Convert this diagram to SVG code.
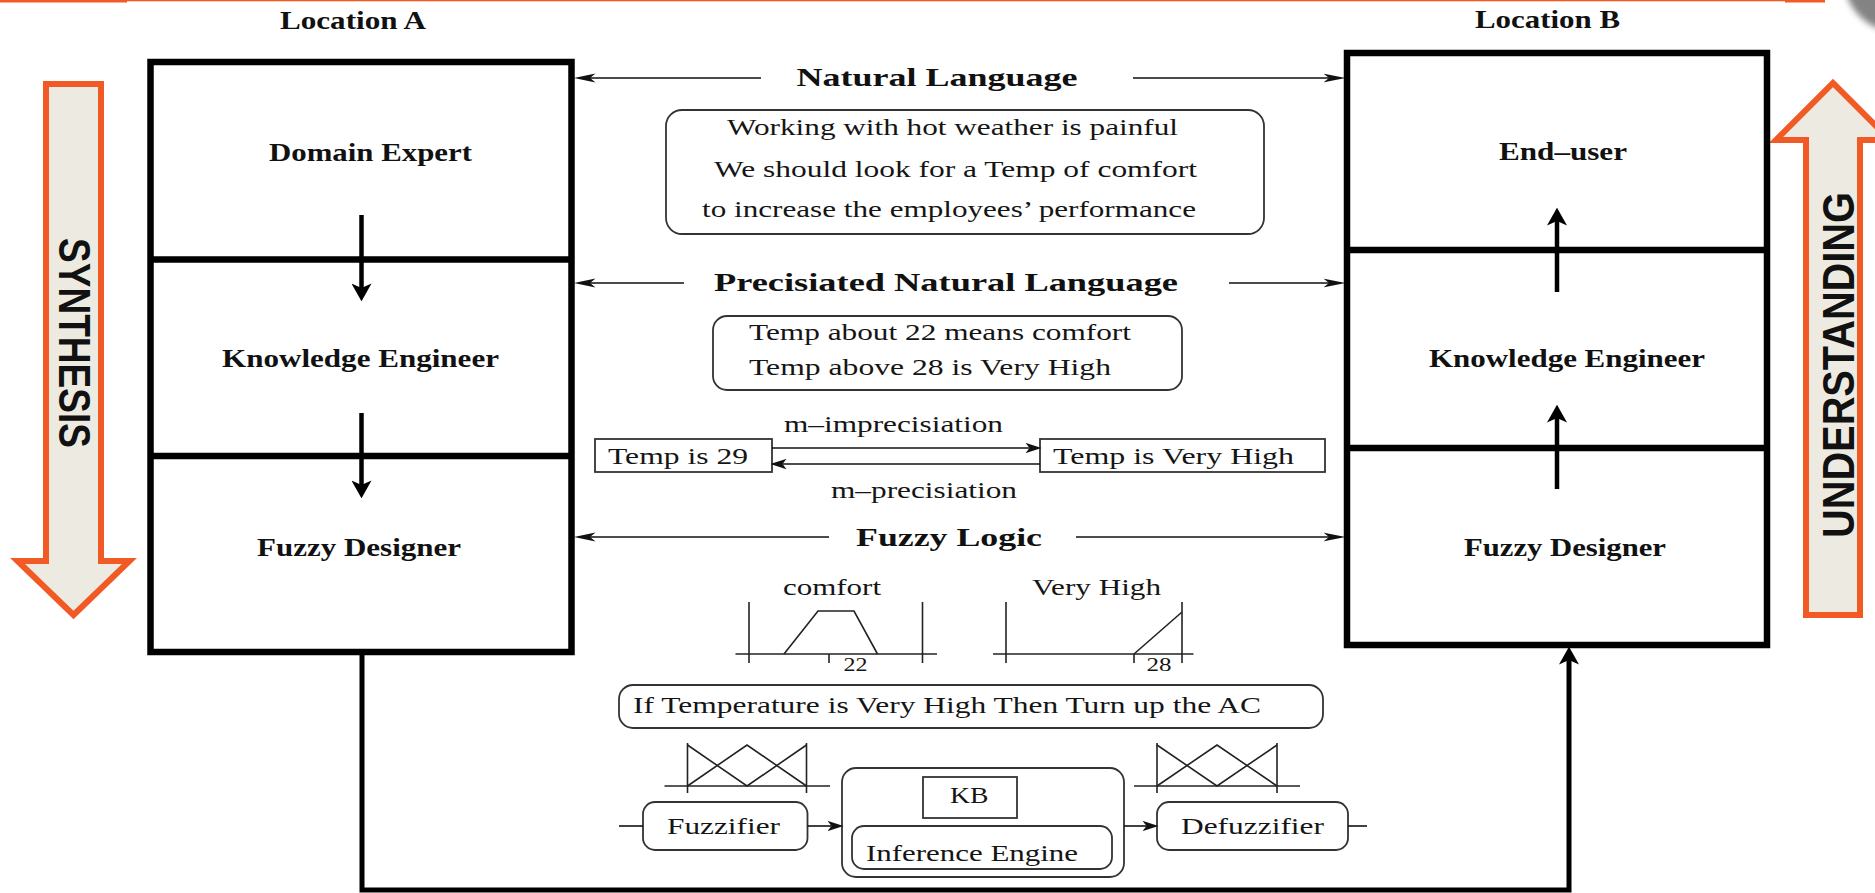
<svg xmlns="http://www.w3.org/2000/svg" width="1875" height="893" viewBox="0 0 1875 893">
  <style>
    .bx { fill: none; stroke: #000; stroke-width: 6.5; }
    .ar { stroke: #000; stroke-width: 4.5; fill: none; }
    .loop { stroke: #000; stroke-width: 5; fill: none; }
    .thin { stroke: #111; stroke-width: 1.6; fill: none; }
    .rb { fill: none; stroke: #333; stroke-width: 1.8; }
    .ax { stroke: #222; stroke-width: 1.6; fill: none; }
    .lbl { font-family: "Liberation Serif", "Times New Roman", serif; font-weight: bold; font-size: 26px; fill: #111; }
    .txt { font-family: "Liberation Serif", "Times New Roman", serif; font-size: 22.5px; fill: #151515; }
    .sm { font-family: "Liberation Serif", "Times New Roman", serif; font-size: 18px; fill: #151515; }
    .big { font-family: "Liberation Sans", Arial, sans-serif; font-weight: bold; font-size: 45px; fill: #111; }
    .band { fill: #EDEBE1; stroke: #F15A24; stroke-width: 6; stroke-linejoin: miter; }
  </style>
  <defs>
    <marker id="hd" markerUnits="userSpaceOnUse" markerWidth="18" markerHeight="20" viewBox="0 0 16 18" refX="4" refY="9" orient="auto">
      <path d="M0,0 L16,9 L0,18 L4,9 z" fill="#000"/>
    </marker>
    <marker id="tn" markerUnits="userSpaceOnUse" markerWidth="22" markerHeight="10" viewBox="0 0 20 8" refX="5" refY="4" orient="auto">
      <path d="M0,0 L20,4 L0,8 L5,4 z" fill="#111"/>
    </marker>
    <marker id="md" markerUnits="userSpaceOnUse" markerWidth="16" markerHeight="11" viewBox="0 0 14 9" refX="3.5" refY="4.5" orient="auto">
      <path d="M0,0 L14,4.5 L0,9 L3.5,4.5 z" fill="#111"/>
    </marker>
    <filter id="soft" x="-50%" y="-50%" width="200%" height="200%">
      <feGaussianBlur stdDeviation="3"/>
    </filter>
  </defs>

  <rect width="1875" height="893" fill="#fff"/>

  <!-- slide header rule -->
  <g id="header">
    <rect x="0" y="0" width="127" height="2.5" fill="#F15A24"/>
    <rect x="127" y="0" width="1658" height="1.3" fill="#F15A24"/>
    <rect x="1785" y="0" width="40" height="2.5" fill="#F15A24"/>
    <circle cx="1898" cy="-22" r="54" fill="#5a5a5a" opacity="0.75" filter="url(#soft)"/>
  </g>

  <!-- side direction bands -->
  <g id="synthesis">
    <path class="band" d="M46,84 H101 V561 H129.5 L73.5,615 L17.5,561 H46 Z"/>
    <text class="big" transform="translate(59,343) rotate(90)" text-anchor="middle" textLength="210" lengthAdjust="spacingAndGlyphs">SYNTHESIS</text>
  </g>
  <g id="understanding">
    <path class="band" d="M1806,615 V140 H1776 L1833,83 L1890,140 H1860 V615 Z"/>
    <text class="big" transform="translate(1854,365) rotate(-90)" text-anchor="middle" textLength="346" lengthAdjust="spacingAndGlyphs">UNDERSTANDING</text>
  </g>

  <!-- Location A stack -->
  <g id="location-a">
    <text class="lbl" x="353" y="29" text-anchor="middle" textLength="146" lengthAdjust="spacingAndGlyphs">Location A</text>
    <rect class="bx" x="150.5" y="62" width="421" height="590"/>
    <line class="bx" x1="150.5" y1="259.5" x2="571.5" y2="259.5"/>
    <line class="bx" x1="150.5" y1="456" x2="571.5" y2="456"/>
  </g>
  <g id="domain-expert">
    <text class="lbl" x="370.5" y="161" text-anchor="middle" textLength="203" lengthAdjust="spacingAndGlyphs">Domain Expert</text>
  </g>
  <g id="knowledge-engineer-a">
    <text class="lbl" x="360.5" y="367" text-anchor="middle" textLength="277" lengthAdjust="spacingAndGlyphs">Knowledge Engineer</text>
  </g>
  <g id="fuzzy-designer-a">
    <text class="lbl" x="359" y="556" text-anchor="middle" textLength="204" lengthAdjust="spacingAndGlyphs">Fuzzy Designer</text>
  </g>

  <!-- Location B stack -->
  <g id="location-b">
    <text class="lbl" x="1547.5" y="28" text-anchor="middle" textLength="145" lengthAdjust="spacingAndGlyphs">Location B</text>
    <rect class="bx" x="1347" y="53" width="420" height="592"/>
    <line class="bx" x1="1347" y1="250" x2="1767" y2="250"/>
    <line class="bx" x1="1347" y1="448" x2="1767" y2="448"/>
  </g>
  <g id="end-user">
    <text class="lbl" x="1563" y="160" text-anchor="middle" textLength="128" lengthAdjust="spacingAndGlyphs">End–user</text>
  </g>
  <g id="knowledge-engineer-b">
    <text class="lbl" x="1567" y="367" text-anchor="middle" textLength="276" lengthAdjust="spacingAndGlyphs">Knowledge Engineer</text>
  </g>
  <g id="fuzzy-designer-b">
    <text class="lbl" x="1565" y="556" text-anchor="middle" textLength="202" lengthAdjust="spacingAndGlyphs">Fuzzy Designer</text>
  </g>

  <!-- language levels -->
  <g id="natural-language">
    <text class="lbl" x="937" y="86" text-anchor="middle" textLength="281" lengthAdjust="spacingAndGlyphs">Natural Language</text>
    <rect class="rb" x="666" y="110" width="598" height="124" rx="16"/>
    <text class="txt" x="952.5" y="135" text-anchor="middle" textLength="451" lengthAdjust="spacingAndGlyphs">Working with hot weather is painful</text>
    <text class="txt" x="955.5" y="177" text-anchor="middle" textLength="483" lengthAdjust="spacingAndGlyphs">We should look for a Temp of comfort</text>
    <text class="txt" x="949" y="217" text-anchor="middle" textLength="494" lengthAdjust="spacingAndGlyphs">to increase the employees’ performance</text>
  </g>
  <g id="precisiated-language">
    <text class="lbl" x="946" y="291" text-anchor="middle" textLength="464" lengthAdjust="spacingAndGlyphs">Precisiated Natural Language</text>
    <rect class="rb" x="713" y="316" width="469" height="74" rx="14"/>
    <text class="txt" x="749" y="340" textLength="382" lengthAdjust="spacingAndGlyphs">Temp about 22 means comfort</text>
    <text class="txt" x="749" y="375" textLength="362" lengthAdjust="spacingAndGlyphs">Temp above 28 is Very High</text>
  </g>
  <g id="temp-29">
    <rect class="rb" x="595" y="439" width="177" height="33"/>
    <text class="txt" x="608" y="464" textLength="140" lengthAdjust="spacingAndGlyphs">Temp is 29</text>
  </g>
  <g id="temp-very-high">
    <rect class="rb" x="1040" y="439" width="285" height="33"/>
    <text class="txt" x="1053" y="464" textLength="241" lengthAdjust="spacingAndGlyphs">Temp is Very High</text>
  </g>
  <g id="precisiation-labels">
    <text class="txt" x="784" y="432" textLength="219" lengthAdjust="spacingAndGlyphs">m–imprecisiation</text>
    <text class="txt" x="831" y="498" textLength="186" lengthAdjust="spacingAndGlyphs">m–precisiation</text>
  </g>

  <!-- fuzzy logic level -->
  <g id="fuzzy-logic">
    <text class="lbl" x="949" y="546" text-anchor="middle" textLength="186" lengthAdjust="spacingAndGlyphs">Fuzzy Logic</text>
  </g>
  <g id="mf-comfort">
    <text class="txt" x="783" y="595" textLength="98" lengthAdjust="spacingAndGlyphs">comfort</text>
    <line class="ax" x1="749" y1="602" x2="749" y2="663"/>
    <line class="ax" x1="922.5" y1="602" x2="922.5" y2="663"/>
    <line class="ax" x1="735.5" y1="654" x2="937" y2="654"/>
    <line class="ax" x1="829" y1="654" x2="829" y2="663"/>
    <polyline class="ax" points="784,654 818,611 854,611 877.5,654"/>
    <text class="sm" x="843.5" y="671" textLength="24" lengthAdjust="spacingAndGlyphs">22</text>
  </g>
  <g id="mf-very-high">
    <text class="txt" x="1032" y="595" textLength="129" lengthAdjust="spacingAndGlyphs">Very High</text>
    <line class="ax" x1="1006" y1="602" x2="1006" y2="663"/>
    <line class="ax" x1="1182" y1="602" x2="1182" y2="663"/>
    <line class="ax" x1="993" y1="654" x2="1193.5" y2="654"/>
    <line class="ax" x1="1134" y1="654" x2="1134" y2="663"/>
    <line class="ax" x1="1134" y1="654" x2="1182" y2="612"/>
    <text class="sm" x="1146.5" y="671" textLength="25" lengthAdjust="spacingAndGlyphs">28</text>
  </g>
  <g id="rule">
    <rect class="rb" x="619" y="685" width="704" height="43" rx="14"/>
    <text class="txt" x="633" y="713" textLength="628" lengthAdjust="spacingAndGlyphs">If Temperature is Very High Then Turn up the AC</text>
  </g>
  <g id="mf-input">
    <line class="ax" x1="687.5" y1="743" x2="687.5" y2="793"/>
    <line class="ax" x1="806.5" y1="743" x2="806.5" y2="793"/>
    <line class="ax" x1="664.5" y1="786" x2="830" y2="786"/>
    <polyline class="ax" points="687.5,745 747,786 806.5,745"/>
    <polyline class="ax" points="687.5,786 747,745 806.5,786"/>
  </g>
  <g id="mf-output">
    <line class="ax" x1="1157" y1="743" x2="1157" y2="793"/>
    <line class="ax" x1="1277" y1="743" x2="1277" y2="793"/>
    <line class="ax" x1="1134" y1="786" x2="1300" y2="786"/>
    <polyline class="ax" points="1157,745 1217,786 1277,745"/>
    <polyline class="ax" points="1157,786 1217,745 1277,786"/>
  </g>
  <g id="fuzzifier">
    <rect class="rb" x="643" y="802" width="164.5" height="48" rx="12"/>
    <text class="txt" x="667" y="834" textLength="113" lengthAdjust="spacingAndGlyphs">Fuzzifier</text>
  </g>
  <g id="inference-system">
    <rect class="rb" x="842" y="768" width="282" height="109" rx="14"/>
  </g>
  <g id="kb">
    <rect class="rb" x="923" y="777" width="94" height="41"/>
    <text class="txt" x="950" y="803" textLength="38.5" lengthAdjust="spacingAndGlyphs">KB</text>
  </g>
  <g id="inference-engine">
    <rect class="rb" x="852" y="826" width="260" height="43" rx="12"/>
    <text class="txt" x="866" y="861" textLength="212" lengthAdjust="spacingAndGlyphs">Inference Engine</text>
  </g>
  <g id="defuzzifier">
    <rect class="rb" x="1157" y="802" width="191" height="48" rx="12"/>
    <text class="txt" x="1181" y="834" textLength="143" lengthAdjust="spacingAndGlyphs">Defuzzifier</text>
  </g>

  <!-- connectors -->
  <g id="connectors">
    <line class="ar" x1="361.5" y1="215" x2="361.5" y2="288" marker-end="url(#hd)"/>
    <line class="ar" x1="361.5" y1="413" x2="361.5" y2="485" marker-end="url(#hd)"/>
    <line class="ar" x1="1557" y1="292" x2="1557" y2="221" marker-end="url(#hd)"/>
    <line class="ar" x1="1557" y1="489" x2="1557" y2="418" marker-end="url(#hd)"/>
    <path class="loop" d="M362,655 V890 H1569 V660" marker-end="url(#hd)"/>

    <line class="thin" x1="761" y1="78" x2="590" y2="78" marker-end="url(#tn)"/>
    <line class="thin" x1="1133" y1="78" x2="1329" y2="78" marker-end="url(#tn)"/>
    <line class="thin" x1="684" y1="283" x2="590" y2="283" marker-end="url(#tn)"/>
    <line class="thin" x1="1229" y1="283" x2="1329" y2="283" marker-end="url(#tn)"/>
    <line class="thin" x1="829" y1="537" x2="590" y2="537" marker-end="url(#tn)"/>
    <line class="thin" x1="1076" y1="537" x2="1329" y2="537" marker-end="url(#tn)"/>

    <line class="thin" x1="772" y1="448" x2="1029.5" y2="448" marker-end="url(#md)"/>
    <line class="thin" x1="1040" y1="464" x2="782.5" y2="464" marker-end="url(#md)"/>

    <line class="thin" x1="619" y1="826" x2="643" y2="826"/>
    <line class="thin" x1="807.5" y1="826" x2="831.5" y2="826" marker-end="url(#md)"/>
    <line class="thin" x1="1124" y1="826" x2="1146.5" y2="826" marker-end="url(#md)"/>
    <line class="thin" x1="1348" y1="826" x2="1367" y2="826"/>
  </g>
</svg>
